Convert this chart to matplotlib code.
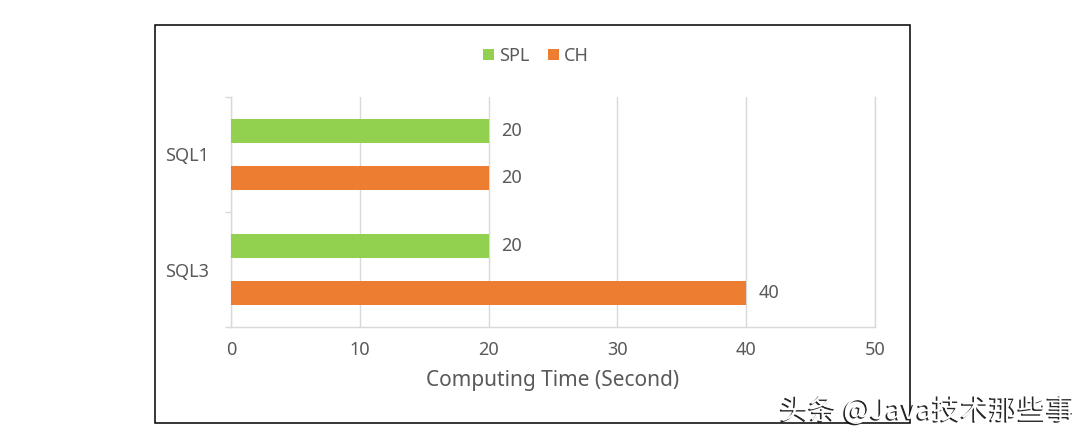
import matplotlib
matplotlib.use("Agg")
import matplotlib.pyplot as plt
import matplotlib.patheffects as pe
from matplotlib.patches import Rectangle
from matplotlib.lines import Line2D
import numpy as np

categories = ["SQL1", "SQL3"]
series_names = ["SPL", "CH"]
spl_values = [20, 20]
ch_values = [20, 40]
x_ticks = [0, 10, 20, 30, 40, 50]
x_label = "Computing Time (Second)"
watermark = "头条 @Java技术那些事"

GREEN = "#92d050"
ORANGE = "#ed7d31"
GRAY = "#595959"
GRID = "#d9d9d9"

plt.rcParams['font.family'] = ['Noto Sans', 'DejaVu Sans']

fig = plt.figure(figsize=(10.8, 4.43), dpi=100)
fig.patch.set_facecolor("white")

# outer border
fig.add_artist(Rectangle((155/1080, 1-423/443), (910-155)/1080, (423-25)/443,
                         transform=fig.transFigure, fill=False,
                         edgecolor="black", linewidth=1.1))

ax = fig.add_axes([231/1080, 1-327/443, (875-231)/1080, (327-97)/443])
y = np.arange(len(categories))
h = 0.204
off = 0.206
b1 = ax.barh(y - off, spl_values, height=h, color=GREEN, label=series_names[0], zorder=3)
b2 = ax.barh(y + off, ch_values, height=h, color=ORANGE, label=series_names[1], zorder=3)

for bars, vals in ((b1, spl_values), (b2, ch_values)):
    for r, v in zip(bars, vals):
        ax.annotate(f"{v}", (r.get_width(), r.get_y() + r.get_height()/2),
                    xytext=(9, 0), textcoords="offset points",
                    ha="left", va="center", fontsize=13, color=GRAY)

ax.set_xlim(0, 50)
ax.set_ylim(len(categories) - 0.5, -0.5)
ax.set_xticks(x_ticks)
ax.set_xticklabels([str(t) for t in x_ticks])
ax.tick_params(axis="x", length=0, labelsize=13, labelcolor=GRAY, pad=10)
ax.set_yticks(y)
ax.set_yticklabels(categories)
ax.tick_params(axis="y", length=0, labelsize=13, labelcolor=GRAY, pad=16)
ax.set_yticks([-0.5, 0.5, 1.5], minor=True)
ax.tick_params(axis="y", which="minor", length=4, color=GRID, width=1.0)
ax.grid(axis="x", color=GRID, linewidth=1.0, zorder=0)
ax.spines["top"].set_visible(False)
for s in ["left", "bottom", "right"]:
    ax.spines[s].set_color(GRID)
    ax.spines[s].set_linewidth(1.0)
ax.set_xlabel(x_label, fontsize=15, color=GRAY, labelpad=8)

# bottom axis extends slightly left
ax.add_line(Line2D([-0.0078, 0], [1.5, 1.5], color=GRID, linewidth=1.0,
                   transform=ax.transData, clip_on=False))

leg = fig.legend(handles=[b1, b2], labels=series_names, loc="center",
                 bbox_to_anchor=(536/1080, 1-56/443), ncol=2, frameon=False,
                 fontsize=13, handlelength=0.6, handleheight=0.6,
                 handletextpad=0.3, columnspacing=1.0, labelcolor=GRAY)

fig.text(1075/1080, 1-411/443, watermark, ha="right", va="center",
         fontsize=20.5, color="white",
         family=['Noto Sans CJK SC', 'DejaVu Sans'],
         path_effects=[pe.withSimplePatchShadow(offset=(-1.2, -1.0), shadow_rgbFace="black", alpha=0.85)])

fig.savefig("out.png", dpi=100, facecolor="white")
